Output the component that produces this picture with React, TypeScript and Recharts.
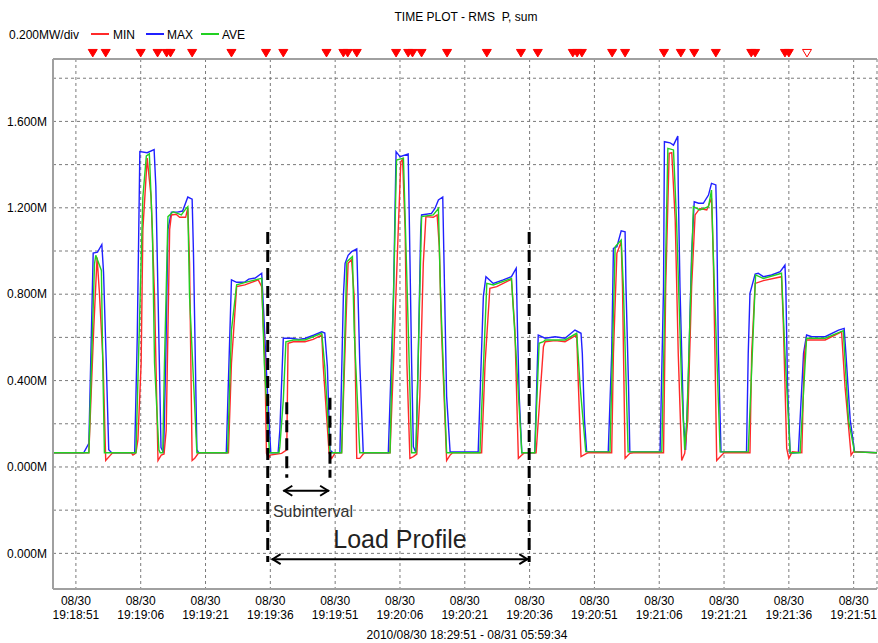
import {
  LineChart,
  Line,
  XAxis,
  YAxis,
  CartesianGrid,
  ReferenceLine,
  ReferenceDot,
} from "recharts";

// seconds after 19:18:51
const xTicks = [0, 15, 30, 45, 60, 75, 90, 105, 120, 135, 150, 165, 180];
const xTickDates = ["08/30", "08/30", "08/30", "08/30", "08/30", "08/30", "08/30", "08/30", "08/30", "08/30", "08/30", "08/30", "08/30"];
const xTickTimes = ["19:18:51", "19:19:06", "19:19:21", "19:19:36", "19:19:51", "19:20:06", "19:20:21", "19:20:36", "19:20:51", "19:21:06", "19:21:21", "19:21:36", "19:21:51"];

const yTicks = [-0.4, -0.2, 0, 0.2, 0.4, 0.6, 0.8, 1.0, 1.2, 1.4, 1.6, 1.8];
const yTickLabels = ["0.000M", "", "0.000M", "", "0.400M", "", "0.800M", "", "1.200M", "", "1.600M", ""];

// [seconds, MW]
const maxSeries: [number, number][] = [
  [-5.3, 0.066], [1.8, 0.066], [3.0, 0.11], [4.0, 0.99], [5.0, 0.995], [6.0, 1.03], [6.4, 0.9], [7.0, 0.5], [7.6, 0.08], [8.3, 0.066],
  [13.6, 0.066], [14.2, 0.6], [14.8, 1.46], [16.5, 1.455], [18.1, 1.47], [18.5, 1.3], [19.0, 0.8], [19.7, 0.09], [20.3, 0.066], [20.8, 0.5], [21.3, 1.1], [22.1, 1.18], [23.5, 1.18], [24.7, 1.185], [25.9, 1.25], [26.9, 1.24], [27.2, 1.0], [28.0, 0.08], [28.4, 0.066],
  [34.8, 0.066], [36.0, 0.866], [37.2, 0.855], [39.0, 0.855], [40.0, 0.87], [41.5, 0.875], [43.0, 0.897], [43.5, 0.7], [44.2, 0.4], [45.1, 0.066],
  [46.8, 0.066], [47.2, 0.17], [48.0, 0.596], [50.0, 0.596], [51.5, 0.59], [53.0, 0.595], [55.0, 0.61], [56.9, 0.626], [57.6, 0.62], [58.2, 0.464], [58.8, 0.079], [59.5, 0.066],
  [61.1, 0.066], [61.9, 0.79], [62.3, 0.943], [63.0, 0.98], [63.8, 0.997], [65.0, 1.01], [65.2, 0.866], [65.7, 0.48], [66.5, 0.066],
  [72.3, 0.066], [73.5, 0.79], [74.1, 1.46], [75.0, 1.437], [76.9, 1.449], [77.2, 1.097], [77.7, 0.48], [78.1, 0.094], [78.7, 0.066], [79.2, 0.48], [79.8, 1.097], [80.0, 1.167], [82.3, 1.174], [83.1, 1.197], [83.9, 1.236], [84.9, 1.25], [85.2, 0.943], [85.8, 0.326], [86.6, 0.07],
  [93.1, 0.07], [94.3, 0.79], [94.9, 0.881], [96.6, 0.85], [98.9, 0.866], [100.8, 0.881], [101.9, 0.92], [102.2, 0.634], [102.6, 0.326], [103.2, 0.066],
  [106.2, 0.066], [106.8, 0.48], [107.0, 0.611], [108.6, 0.596], [110.9, 0.603], [113.2, 0.596], [115.5, 0.634], [116.9, 0.619], [117.2, 0.526], [117.7, 0.218], [118.2, 0.071],
  [123.2, 0.07], [124.0, 0.526], [124.4, 1.012], [125.2, 1.02], [126.2, 1.093], [127.1, 1.089], [127.3, 0.835], [127.9, 0.372], [128.2, 0.07],
  [135.2, 0.07], [136.0, 0.835], [136.2, 1.506], [137.5, 1.501], [138.3, 1.49], [139.3, 1.532], [139.4, 1.298], [139.8, 0.835], [140.6, 0.218], [141.1, 0.079], [141.7, 0.372], [142.5, 0.989], [143.1, 1.228], [144.1, 1.221], [145.2, 1.221], [146.4, 1.259], [147.1, 1.313], [148.1, 1.306], [148.3, 1.144], [148.7, 0.526], [149.3, 0.07],
  [155.2, 0.07], [155.6, 0.526], [156.0, 0.804], [157.2, 0.893], [157.9, 0.897], [159.1, 0.881], [161.0, 0.889], [163.0, 0.904], [164.1, 0.935], [164.3, 0.835], [164.7, 0.372], [165.3, 0.063],
  [167.2, 0.066], [168.4, 0.526], [169.1, 0.611], [170.3, 0.603], [173.4, 0.603], [176.5, 0.634], [177.8, 0.642], [178.2, 0.526], [179.2, 0.218], [180.2, 0.071], [185.4, 0.066],
];

const minSeries: [number, number][] = [
  [-5.3, 0.066], [3.0, 0.066], [4.1, 0.63], [4.9, 0.97], [5.4, 0.82], [6.3, 0.48], [6.9, 0.03], [8.0, 0.055], [8.5, 0.066],
  [12.8, 0.066], [13.2, 0.055], [13.6, 0.06], [13.9, 0.066], [14.35, 0.125], [15.1, 0.48], [15.5, 1.1], [16.5, 1.43], [17.4, 1.25], [18.2, 0.79], [19.0, 0.03], [19.75, 0.055], [20.4, 0.06], [20.9, 0.17], [21.7, 1.1], [22.1, 1.167], [23.2, 1.17], [24.0, 1.156], [25.4, 1.156], [25.9, 1.2], [26.3, 0.943], [26.9, 0.03], [27.5, 0.04], [28.2, 0.06], [28.6, 0.066],
  [35.3, 0.066], [36.0, 0.48], [37.2, 0.835], [39.1, 0.843], [42.2, 0.866], [43.0, 0.835], [43.75, 0.48], [44.1, 0.063], [44.6, 0.04], [44.9, 0.055], [47.6, 0.063], [48.8, 0.079], [49.1, 0.573], [50.3, 0.58], [53.0, 0.58], [54.9, 0.591], [56.9, 0.611], [57.25, 0.464], [58.6, 0.063], [59.2, 0.04], [59.95, 0.063], [60.5, 0.066],
  [61.5, 0.066], [62.7, 0.79], [63.0, 0.943], [63.8, 0.96], [64.4, 0.79], [65.0, 0.04], [65.7, 0.04], [66.5, 0.06], [67.0, 0.066],
  [72.7, 0.066], [73.5, 0.48], [74.6, 1.097], [75.2, 1.413], [75.6, 1.425], [76.2, 1.097], [76.6, 0.48], [77.3, 0.04], [78.1, 0.048], [78.9, 0.06], [79.6, 0.326], [80.4, 0.943], [81.0, 1.159], [82.7, 1.156], [83.6, 1.167], [84.1, 1.02], [84.6, 0.634], [85.8, 0.03], [86.6, 0.055], [87.2, 0.066],
  [93.9, 0.066], [94.7, 0.48], [95.8, 0.827], [97.4, 0.835], [100.8, 0.869], [101.6, 0.634], [102.4, 0.04], [103.2, 0.055], [103.8, 0.066],
  [106.5, 0.066], [107.4, 0.326], [108.2, 0.557], [108.6, 0.58], [110.9, 0.585], [113.2, 0.58], [115.9, 0.611], [116.3, 0.372], [116.9, 0.048], [118.2, 0.063], [118.6, 0.066],
  [124.0, 0.066], [124.4, 0.526], [125.2, 0.989], [126.2, 1.043], [126.5, 0.835], [127.1, 0.04], [128.2, 0.063], [129.0, 0.066],
  [136.0, 0.066], [136.5, 0.835], [137.3, 1.452], [137.9, 1.455], [138.7, 1.144], [139.4, 0.526], [140.2, 0.03], [140.9, 0.063], [141.6, 0.218], [142.5, 0.835], [143.3, 1.167], [144.4, 1.197], [146.0, 1.19], [147.1, 1.244], [147.5, 0.989], [147.9, 0.526], [148.3, 0.03], [149.5, 0.055], [150.0, 0.066],
  [156.0, 0.066], [156.4, 0.526], [157.2, 0.85], [159.1, 0.863], [163.3, 0.881], [163.7, 0.68], [164.5, 0.086], [165.0, 0.04], [165.8, 0.071],
  [168.0, 0.066], [168.6, 0.526], [169.1, 0.588], [173.4, 0.588], [177.2, 0.626], [178.0, 0.372], [179.4, 0.055], [179.9, 0.07], [185.4, 0.066],
];

const aveSeries: [number, number][] = [
  [-5.3, 0.066], [3.0, 0.066], [4.3, 0.94], [4.6, 0.98], [5.9, 0.91], [6.2, 0.5], [6.6, 0.066],
  [13.9, 0.066], [15.5, 1.25], [16.3, 1.44], [17.0, 1.45], [17.7, 1.097], [18.2, 0.48], [19.2, 0.079], [19.5, 0.066], [20.1, 0.066], [20.5, 0.48], [21.3, 1.159], [22.5, 1.182], [24.4, 1.167], [25.5, 1.197], [25.9, 1.205], [26.3, 0.79], [28.0, 0.066],
  [35.1, 0.066], [36.0, 0.634], [37.2, 0.843], [39.9, 0.858], [42.2, 0.87], [43.0, 0.873], [43.6, 0.48], [44.8, 0.066],
  [47.0, 0.066], [47.2, 0.094], [48.0, 0.31], [48.6, 0.58], [50.3, 0.588], [53.0, 0.588], [56.9, 0.619], [57.6, 0.464], [58.8, 0.063], [59.2, 0.066],
  [61.5, 0.066], [62.7, 0.95], [64.0, 0.974], [64.4, 0.634], [65.7, 0.066],
  [72.7, 0.066], [74.2, 1.421], [75.8, 1.43], [76.5, 0.943], [77.7, 0.066], [78.7, 0.066], [80.0, 1.159], [82.7, 1.167], [83.9, 1.197], [84.4, 0.79], [85.8, 0.066],
  [93.5, 0.066], [95.1, 0.85], [96.6, 0.843], [100.8, 0.873], [102.0, 0.48], [103.2, 0.066],
  [106.2, 0.066], [107.2, 0.573], [108.2, 0.58], [108.6, 0.588], [113.2, 0.588], [115.9, 0.619], [116.7, 0.372], [118.0, 0.071],
  [123.6, 0.07], [124.8, 1.02], [126.2, 1.051], [126.7, 0.835], [127.8, 0.07],
  [135.6, 0.07], [137.0, 1.475], [138.3, 1.468], [139.0, 1.144], [140.2, 0.372], [140.9, 0.079], [141.4, 0.218], [142.9, 1.205], [144.4, 1.19], [146.4, 1.205], [147.1, 1.282], [147.5, 0.989], [149.1, 0.07],
  [155.6, 0.07], [157.3, 0.889], [159.1, 0.873], [163.3, 0.897], [164.1, 0.526], [165.3, 0.066],
  [167.6, 0.066], [169.1, 0.596], [173.4, 0.596], [177.6, 0.631], [178.8, 0.218], [180.2, 0.07], [185.4, 0.066],
];

// event markers along the top
const eventTimes = [3.9, 6.9, 15.0, 18.9, 21.0, 21.9, 26.9, 36.0, 44.0, 48.0, 58.0, 61.9, 62.9, 65.0, 74.1, 76.9, 77.9, 80.0, 85.9, 95.1, 103.0, 106.9, 115.0, 116.0, 117.1, 124.1, 127.1, 136.1, 140.0, 143.1, 148.1, 156.3, 157.2, 164.1, 165.0];
const openEventTimes = [169.2];

const xMin = -5.3;
const xMax = 185.4;
const yMin = -0.565;
const yMax = 1.889;
const markerY = 1.917;

const FONT = '"Liberation Sans", Arial, sans-serif';

const toPoints = (s: [number, number][]) => s.map(([t, v]) => ({ t, v }));

function TimeTick(props: any) {
  const { x, y, payload } = props;
  const i = xTicks.indexOf(payload.value);
  return (
    <g>
      <text x={x} y={y + 16} textAnchor="middle" fontSize={12} fill="#000" fontFamily={FONT}>
        {xTickDates[i]}
      </text>
      <text x={x} y={y + 30} textAnchor="middle" fontSize={12} fill="#000" fontFamily={FONT}>
        {xTickTimes[i]}
      </text>
    </g>
  );
}

function Arrow(props: any) {
  const { x1, y1, x2, y2 } = props;
  return (
    <g stroke="#000" strokeWidth={2} fill="none">
      <line x1={x1} y1={y1} x2={x2} y2={y2} />
      <polyline points={`${x1 + 9},${y1 - 5} ${x1 + 1},${y1} ${x1 + 9},${y1 + 5}`} />
      <polyline points={`${x2 - 9},${y2 - 5} ${x2 - 1},${y2} ${x2 - 9},${y2 + 5}`} />
    </g>
  );
}

const tri = (filled: boolean) => (p: any) => (
  <path
    d={`M${p.cx - 4.5},${p.cy - 3.5} L${p.cx + 4.5},${p.cy - 3.5} L${p.cx},${p.cy + 4} Z`}
    fill={filled ? "#ff0000" : "#fff"}
    stroke="#ff0000"
    strokeWidth={1}
  />
);

export default function App() {
  return (
    <div style={{ position: "absolute", left: 0, top: 0, width: 878, height: 643, background: "#fff" }}>
      <LineChart
        width={878}
        height={643}
        margin={{ top: 59, right: 1, bottom: 14, left: 8 }}
        style={{ fontFamily: FONT }}
      >
        <CartesianGrid stroke="#7a7a7a" strokeDasharray="3 3" />
        <XAxis
          dataKey="t"
          type="number"
          domain={[xMin, xMax]}
          allowDataOverflow
          ticks={xTicks}
          interval={0}
          tick={<TimeTick />}
          tickLine={false}
          tickSize={0}
          tickMargin={0}
          height={40}
          axisLine={{ stroke: "#a0a0a0", strokeWidth: 2 }}
        />
        <YAxis
          type="number"
          domain={[yMin, yMax]}
          allowDataOverflow
          ticks={yTicks}
          interval={0}
          width={45}
          tickLine={false}
          tickSize={0}
          tickMargin={6}
          tick={{ fontSize: 12, fill: "#000", fontFamily: FONT }}
          tickFormatter={(v: number) => yTickLabels[yTicks.findIndex((y) => Math.abs(y - v) < 1e-6)] ?? ""}
          axisLine={{ stroke: "#a0a0a0", strokeWidth: 2 }}
        />
        <ReferenceLine y={yMax} stroke="#a0a0a0" strokeWidth={2} ifOverflow="visible" />

        <Line data={toPoints(maxSeries)} dataKey="v" type="linear" stroke="#2020ff" strokeWidth={1.4} dot={false} isAnimationActive={false} />
        <Line data={toPoints(minSeries)} dataKey="v" type="linear" stroke="#ff2a2a" strokeWidth={1.4} dot={false} isAnimationActive={false} />
        <Line data={toPoints(aveSeries)} dataKey="v" type="linear" stroke="#22d022" strokeWidth={1.4} dot={false} isAnimationActive={false} />

        {/* load profile and subinterval annotations */}
        <ReferenceLine segment={[{ x: 44.4, y: 1.088 }, { x: 44.4, y: -0.44 }]} stroke="#000" strokeWidth={3} strokeDasharray="12 6" ifOverflow="visible" />
        <ReferenceLine segment={[{ x: 104.9, y: 1.088 }, { x: 104.9, y: -0.44 }]} stroke="#000" strokeWidth={3} strokeDasharray="12 6" ifOverflow="visible" />
        <ReferenceLine segment={[{ x: 48.8, y: 0.3 }, { x: 48.8, y: -0.05 }]} stroke="#000" strokeWidth={3} strokeDasharray="12 6" ifOverflow="visible" />
        <ReferenceLine segment={[{ x: 58.8, y: 0.32 }, { x: 58.8, y: -0.05 }]} stroke="#000" strokeWidth={3} strokeDasharray="12 6" ifOverflow="visible" />
        <ReferenceLine segment={[{ x: 48.0, y: -0.11 }, { x: 58.6, y: -0.11 }]} ifOverflow="visible" shape={(p: any) => <Arrow {...p} />} />
        <ReferenceLine segment={[{ x: 45.3, y: -0.427 }, { x: 104.7, y: -0.427 }]} ifOverflow="visible" shape={(p: any) => <Arrow {...p} />} />
        <ReferenceDot
          x={45.6}
          y={-0.23}
          ifOverflow="visible"
          shape={(p: any) => (
            <text x={p.cx} y={p.cy} fontSize={16} fill="#333" fontFamily={FONT}>Subinterval</text>
          )}
        />
        <ReferenceDot
          x={75.0}
          y={-0.375}
          ifOverflow="visible"
          shape={(p: any) => (
            <text x={p.cx} y={p.cy} fontSize={25} fill="#222" textAnchor="middle" fontFamily={FONT}>Load Profile</text>
          )}
        />

        {eventTimes.map((t, i) => (
          <ReferenceDot key={"e" + i} x={t} y={markerY} ifOverflow="visible" shape={tri(true)} />
        ))}
        {openEventTimes.map((t, i) => (
          <ReferenceDot key={"o" + i} x={t} y={markerY} ifOverflow="visible" shape={tri(false)} />
        ))}
      </LineChart>

      <svg width={878} height={643} style={{ position: "absolute", left: 0, top: 0, pointerEvents: "none" }}>
        <g fontFamily={FONT} fontSize={12} fill="#000">
          <text x={466} y={21} textAnchor="middle" style={{ whiteSpace: "pre" }}>
            {"TIME PLOT - RMS  P, sum"}
          </text>
          <text x={9} y={39}>0.200MW/div</text>
          <line x1={91} y1={34} x2={109} y2={34} stroke="#ff2a2a" strokeWidth={2} />
          <text x={113} y={39}>MIN</text>
          <line x1={146} y1={34} x2={164} y2={34} stroke="#2020ff" strokeWidth={2} />
          <text x={167} y={39}>MAX</text>
          <line x1={201} y1={34} x2={219} y2={34} stroke="#22d022" strokeWidth={2} />
          <text x={222} y={39}>AVE</text>
          <text x={467} y={639} textAnchor="middle">2010/08/30 18:29:51 - 08/31 05:59:34</text>
        </g>
      </svg>
    </div>
  );
}
